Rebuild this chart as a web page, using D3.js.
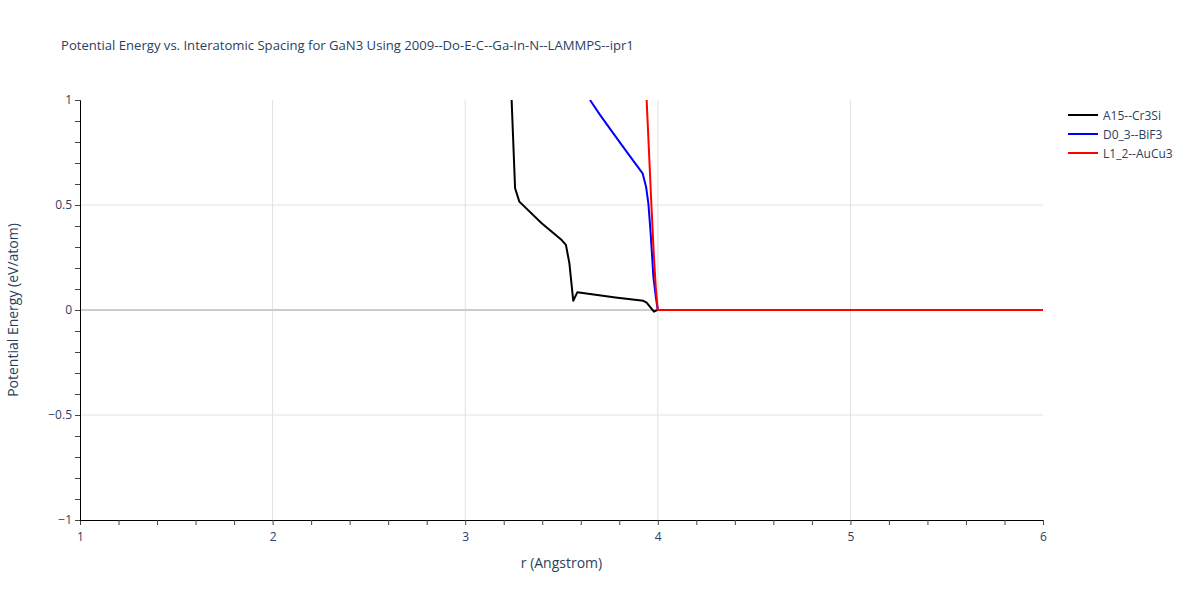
<!DOCTYPE html>
<html><head><meta charset="utf-8">
<script src="https://cdn.jsdelivr.net/npm/d3@7"></script>
<style>body{margin:0;background:#fff;} svg{font-family:"Open Sans",sans-serif;}</style>
</head><body><svg id="c" width="1200" height="600"></svg>
<script>
const title = "Potential Energy vs. Interatomic Spacing for GaN3 Using 2009--Do-E-C--Ga-In-N--LAMMPS--ipr1";
const seriesNames = ["A15--Cr3Si", "D0_3--BiF3", "L1_2--AuCu3"];
const seriesColors = ["#000000", "#0000ff", "#ff0000"];
const a15R = [3.241, 3.259, 3.281, 3.397, 3.501, 3.523, 3.541, 3.561, 3.582, 3.78, 3.925, 3.942, 3.980, 3.99, 4.0, 6.0];
const a15E = [1.0, 0.58, 0.516, 0.413, 0.333, 0.31, 0.222, 0.044, 0.084, 0.06, 0.044, 0.035, -0.008, -0.003, 0, 0];
const d03R = [3.648, 3.700, 3.769, 3.838, 3.921, 3.939, 3.951, 3.963, 3.977, 3.990, 4.0, 6.0];
const d03E = [1.0, 0.929, 0.841, 0.754, 0.651, 0.587, 0.508, 0.365, 0.159, 0.06, 0, 0];
const l12R = [3.942, 3.955, 3.968, 3.980, 3.990, 4.0, 6.0];
const l12E = [1.0, 0.74, 0.476, 0.25, 0.10, 0, 0];
const xTicks = [1, 2, 3, 4, 5, 6];
const yTicks = [-1, -0.5, 0, 0.5, 1];
const xTitle = "r (Angstrom)";
const yTitle = "Potential Energy (eV/atom)";

const series = [[a15R, a15E], [d03R, d03E], [l12R, l12E]].map((s, i) => ({
  name: seriesNames[i], color: seriesColors[i], pts: s[0].map((r, j) => [r, s[1][j]])
}));

const svg = d3.select("#c");
const L = 80, R = 1043, T = 100, B = 520;
const x = d3.scaleLinear().domain([1, 6]).range([L, R]);
const y = d3.scaleLinear().domain([-1, 1]).range([B, T]);
const txt = "#2a3f5f";

// grid
svg.append("g").selectAll("line").data(xTicks.filter(d => d > 1 && d < 6)).join("line")
  .attr("x1", d => x(d)).attr("x2", d => x(d)).attr("y1", T).attr("y2", B)
  .attr("stroke", "#e2e2e2").attr("stroke-width", 1);
svg.append("g").selectAll("line").data(yTicks.filter(d => d > -1 && d < 1)).join("line")
  .attr("x1", L).attr("x2", R).attr("y1", d => y(d)).attr("y2", d => y(d))
  .attr("stroke", d => d === 0 ? "#cccccc" : "#e2e2e2").attr("stroke-width", d => d === 0 ? 2 : 1);

// axes
const fmt = d => (d < 0 ? "\u2212" + Math.abs(d) : String(d));
const xAx = svg.append("g").attr("transform", `translate(0,${B})`)
  .call(d3.axisBottom(x).tickValues(d3.range(1, 6.001, 0.2)).tickSize(5).tickFormat(d => {
    const r = Math.round(d * 10) / 10; return xTicks.includes(r) ? String(r) : "";
  }));
const yAx = svg.append("g").attr("transform", `translate(${L},0)`)
  .call(d3.axisLeft(y).tickValues(d3.range(-1, 1.001, 0.1)).tickSize(5).tickFormat(d => {
    const r = Math.round(d * 10) / 10; return yTicks.includes(r) ? fmt(r) : "";
  }));
[xAx, yAx].forEach(g => {
  g.select(".domain").attr("stroke", "#000").attr("stroke-width", 1);
  g.selectAll(".tick line").attr("stroke", "#444");
  g.selectAll("text").attr("fill", txt).attr("font-size", 12).attr("font-family", "Open Sans");
});
xAx.selectAll("text").attr("dy", "1.05em");
yAx.selectAll("text").attr("x", -8);

// lines
svg.append("defs").append("clipPath").attr("id", "clip").append("rect")
  .attr("x", L).attr("y", T).attr("width", R - L).attr("height", B - T);
const line = d3.line().x(d => x(d[0])).y(d => y(d[1]));
svg.append("g").attr("clip-path", "url(#clip)").selectAll("path").data(series).join("path")
  .attr("d", d => line(d.pts)).attr("fill", "none").attr("stroke", d => d.color)
  .attr("stroke-width", 2).attr("stroke-linejoin", "round");

// titles
svg.append("text").attr("x", 61).attr("y", 50).attr("fill", txt).attr("font-size", 13.1).text(title);
svg.append("text").attr("x", (L + R) / 2).attr("y", 568).attr("text-anchor", "middle")
  .attr("fill", txt).attr("font-size", 14).text(xTitle);
svg.append("text").attr("transform", `translate(18,${(T + B) / 2}) rotate(-90)`).attr("text-anchor", "middle")
  .attr("fill", txt).attr("font-size", 14).text(yTitle);

// legend
const lg = svg.append("g").selectAll("g").data(series).join("g")
  .attr("transform", (d, i) => `translate(1068,${115 + i * 19})`);
lg.append("line").attr("x1", 0).attr("x2", 30).attr("stroke", d => d.color).attr("stroke-width", 2);
lg.append("text").attr("x", 35).attr("y", 4.5).attr("fill", txt).attr("font-size", 12).text(d => d.name);
</script></body></html>
